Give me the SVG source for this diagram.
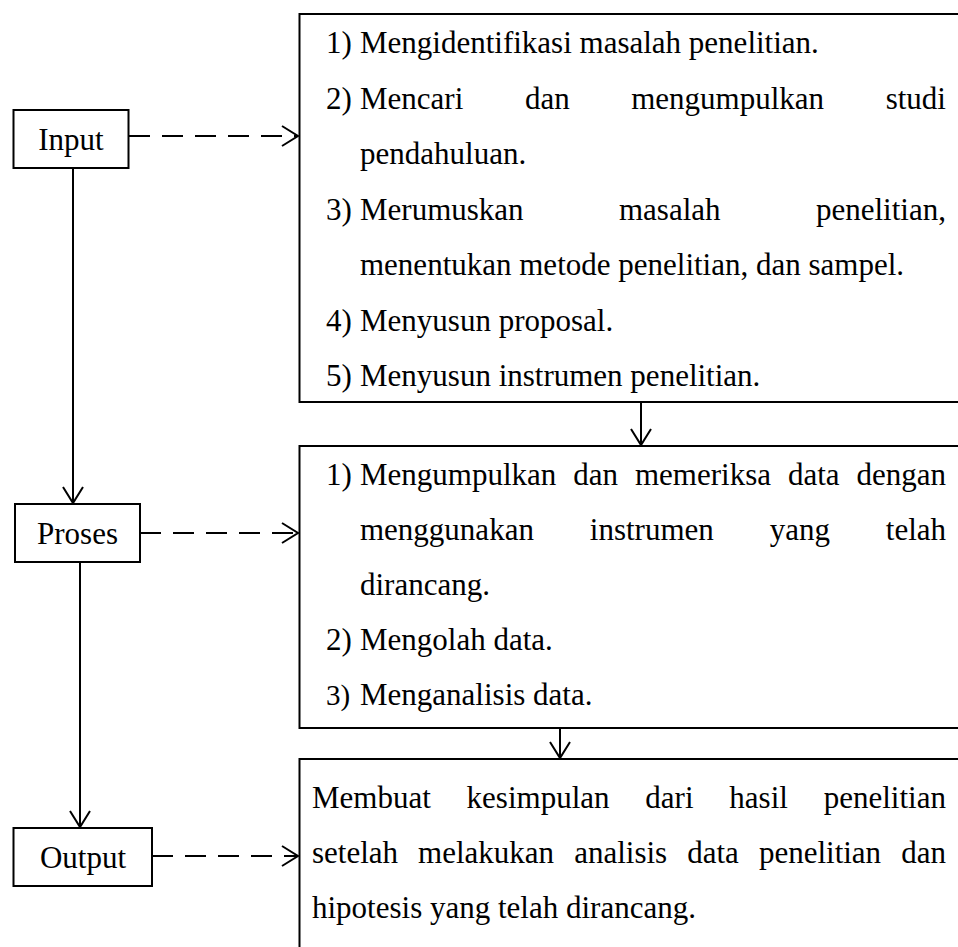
<svg xmlns="http://www.w3.org/2000/svg" width="958" height="947" viewBox="0 0 958 947">
<style>
.box{fill:#fff;stroke:#000;stroke-width:2}
.t{font-family:"Liberation Serif","Times New Roman",serif;font-size:31px;fill:#000}
.c{text-anchor:middle}
.ln{fill:none;stroke:#000;stroke-width:2}
.dash{stroke-dasharray:21 12}
</style>
<defs>
<marker id="ah" markerUnits="userSpaceOnUse" markerWidth="20" markerHeight="24" refX="17" refY="11" orient="auto">
<path d="M1,1 L17,11 L1,21" fill="none" stroke="#000" stroke-width="2" stroke-dasharray="none"/>
</marker>
</defs>
<rect width="958" height="947" fill="#fff"/>

<g id="connectors">
<line class="ln dash" x1="129" y1="136" x2="298" y2="136" marker-end="url(#ah)"/>
<line class="ln dash" x1="140" y1="533" x2="298" y2="533" marker-end="url(#ah)"/>
<line class="ln dash" x1="152" y1="856" x2="298" y2="856" marker-end="url(#ah)"/>
<line class="ln" x1="73" y1="168" x2="73" y2="503" marker-end="url(#ah)"/>
<line class="ln" x1="80" y1="562" x2="80" y2="827" marker-end="url(#ah)"/>
<line class="ln" x1="641" y1="402" x2="641" y2="445" marker-end="url(#ah)"/>
<line class="ln" x1="560" y1="728" x2="560" y2="758" marker-end="url(#ah)"/>
</g>

<g id="input">
<rect class="box" x="13.5" y="110" width="115" height="58"/>
<text class="t c" x="71" y="150">Input</text>
</g>
<g id="proses">
<rect class="box" x="15" y="504" width="125" height="58"/>
<text class="t c" x="77.5" y="544">Proses</text>
</g>
<g id="output">
<rect class="box" x="13.5" y="828" width="138.5" height="58"/>
<text class="t c" x="83" y="868">Output</text>
</g>

<g id="input-steps">
<rect class="box" x="299.5" y="14" width="680" height="388"/>
<text class="t" x="326" y="53">1)</text>
<text class="t" x="360" y="53">Mengidentifikasi masalah penelitian.</text>
<text class="t" x="326" y="108.5">2)</text>
<text class="t" x="360" y="108.5" word-spacing="53.85">Mencari dan mengumpulkan studi</text>
<text class="t" x="360" y="164">pendahuluan.</text>
<text class="t" x="326" y="219.5">3)</text>
<text class="t" x="360" y="219.5" word-spacing="87.65">Merumuskan masalah penelitian,</text>
<text class="t" x="360" y="275">menentukan metode penelitian, dan sampel.</text>
<text class="t" x="326" y="330.5">4)</text>
<text class="t" x="360" y="330.5">Menyusun proposal.</text>
<text class="t" x="326" y="386">5)</text>
<text class="t" x="360" y="386">Menyusun instrumen penelitian.</text>
</g>

<g id="proses-steps">
<rect class="box" x="299.5" y="446" width="680" height="282"/>
<text class="t" x="326" y="485">1)</text>
<text class="t" x="360" y="485" word-spacing="9.2">Mengumpulkan dan memeriksa data dengan</text>
<text class="t" x="360" y="540" word-spacing="48.15">menggunakan instrumen yang telah</text>
<text class="t" x="360" y="595">dirancang.</text>
<text class="t" x="326" y="650">2)</text>
<text class="t" x="360" y="650">Mengolah data.</text>
<text class="t" x="326" y="705" style="font-size:29px">3)</text>
<text class="t" x="360" y="705">Menganalisis data.</text>
</g>

<g id="output-steps">
<rect class="box" x="299.5" y="759" width="680" height="220"/>
<text class="t" x="312" y="808" word-spacing="28.05">Membuat kesimpulan dari hasil penelitian</text>
<text class="t" x="312" y="863" word-spacing="12.3">setelah melakukan analisis data penelitian dan</text>
<text class="t" x="312" y="918">hipotesis yang telah dirancang.</text>
</g>
</svg>
